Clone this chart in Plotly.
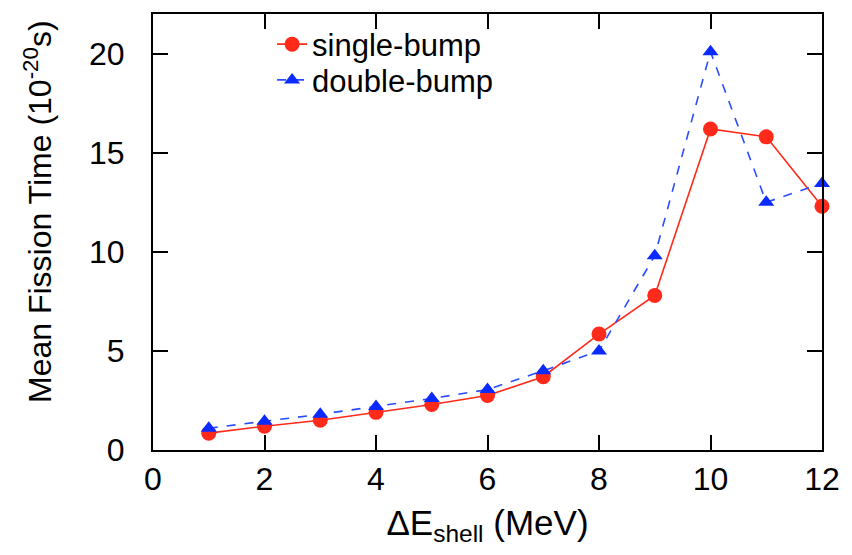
import plotly.graph_objects as go

delta_e = [1, 2, 3, 4, 5, 6, 7, 8, 9, 10, 11, 12]
single_bump = [0.85, 1.2, 1.5, 1.9, 2.3, 2.75, 3.7, 5.85, 7.8, 16.2, 15.8, 12.3]
double_bump = [1.1, 1.45, 1.8, 2.2, 2.6, 3.05, 4.0, 5.0, 9.8, 20.1, 12.5, 13.45]

x_ticks = [0, 2, 4, 6, 8, 10, 12]
y_ticks = [0, 5, 10, 15, 20]

FONT = "Liberation Sans, Arial, sans-serif"

fig = go.Figure()
fig.add_trace(go.Scatter(
    x=delta_e, y=single_bump, name="single-bump", mode="lines+markers",
    line=dict(color="#ff2a1a", width=1.6),
    marker=dict(symbol="circle", size=15, color="#ff2a1a"),
    cliponaxis=False, legend="legend",
))
fig.add_trace(go.Scatter(
    x=delta_e, y=double_bump, name="double-bump", mode="lines+markers",
    line=dict(color="#2a4cff", width=1.6, dash="dash"),
    marker=dict(symbol="triangle-up", size=14, color="#0a2aff"),
    cliponaxis=False, legend="legend2",
))

axis_common = dict(
    showline=True, linecolor="black", linewidth=2, mirror="allticks",
    ticks="inside", ticklen=15, tickwidth=2, tickcolor="black",
    showgrid=False, zeroline=False,
    tickfont=dict(family=FONT, size=32, color="black"),
)

legend_common = dict(xanchor="left", yanchor="middle", bgcolor="rgba(0,0,0,0)",
                     font=dict(size=31, family=FONT), tracegroupgap=0)

fig.update_layout(
    width=852, height=555,
    margin=dict(l=153, r=29, t=12, b=105),
    paper_bgcolor="white", plot_bgcolor="white",
    font=dict(family=FONT, color="black"),
    xaxis=dict(range=[0, 12], tickvals=x_ticks, ticklabelstandoff=0,
               title=dict(text="ΔE<sub>shell</sub> (MeV)", font=dict(size=35), standoff=14),
               **axis_common),
    yaxis=dict(range=[0, 22], tickvals=y_ticks, ticklabelstandoff=20, **axis_common),
    legend=dict(x=0.178, y=0.93, **legend_common),
    legend2=dict(x=0.178, y=0.848, **legend_common),
    showlegend=True,
    annotations=[dict(
        text="Mean Fission Time (10<sup>-20</sup>s)", textangle=-90,
        xref="paper", yref="paper", x=-0.172, y=0.548,
        xanchor="center", yanchor="middle", showarrow=False,
        font=dict(size=32, family=FONT, color="black"),
    )],
)

fig.write_html("out.html")
